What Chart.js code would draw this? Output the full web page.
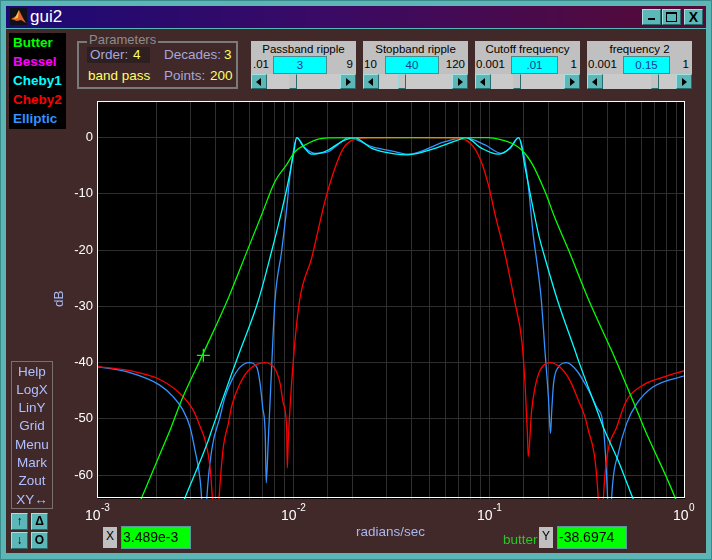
<!DOCTYPE html>
<html>
<head>
<meta charset="utf-8">
<title>gui2</title>
<script src="https://cdn.jsdelivr.net/npm/chart.js"></script>
<style>
  html, body { margin: 0; padding: 0; }
  body {
    width: 712px; height: 560px; overflow: hidden; position: relative;
    background: #5cb6b6; font-family: Arial, "Liberation Sans", sans-serif;
  }
  div, span { position: absolute; box-sizing: border-box; }
  #outer { left: 0; top: 0; width: 712px; height: 560px; border: 1px solid #3a8c8c; }
  #titlebar {
    left: 6px; top: 6px; width: 700px; height: 22px;
    background: linear-gradient(to right, #1c0a74, #3a0a66 45%, #560a34);
  }
  #titletext { left: 24px; top: 1px; color: #fff; font-size: 17px; line-height: 20px; }
  .tbtn {
    top: 3px; width: 19px; height: 16px; background: #5cb8b8;
    border: 1px solid; border-color: #a8e0e0 #2a6a6a #2a6a6a #a8e0e0;
    color: #000; font-weight: bold; text-align: center;
  }
  #content { left: 6px; top: 29px; width: 700px; height: 524px; background: #412829; }
  #legend { left: 9px; top: 33px; width: 57px; height: 96px; background: #000; }
  #legend span { left: 4px; font-weight: bold; font-size: 13.5px; line-height: 16px; white-space: nowrap; }
  #params { left: 77px; top: 41px; width: 161px; height: 48px; border: 2px solid #7a7a7a; }
  #paramsLabel { left: 87px; top: 32px; padding: 0 2px; background: #412829; color: #8c8c8c; font-size: 13px; line-height: 15px; }
  .ptxt { font-size: 13.5px; line-height: 16px; color: #a4a8dc; white-space: nowrap; }
  .yel { color: #ffff66; }
  .panel { top: 41px; width: 105px; height: 48px; background: #c0c0c0; }
  .ptitle { left: 0; top: 1px; width: 100%; text-align: center; font-size: 11.5px; line-height: 14px; color: #000; white-space: nowrap; }
  .pmin, .pmax { top: 16px; font-size: 11.5px; line-height: 14px; color: #000; white-space: nowrap; }
  .pmax { right: 3px; }
  .pbox {
    top: 15px; height: 18px; background: #00ffff; border: 1px solid #4a8a8a;
    text-align: center; font-size: 11.5px; line-height: 17px; color: #1a3c8c;
  }
  .slider { left: 0; top: 33px; width: 105px; height: 15px; background: #cacaca; }
  .arr {
    top: 0; width: 16px; height: 15px; background: #5cb8b8;
    border: 1px solid; border-color: #a8e0e0 #2a6a6a #2a6a6a #a8e0e0;
  }
  .arr.l { left: 0; } .arr.r { right: 0; }
  .arr.l::after, .arr.r::after {
    content: ""; position: absolute; top: 3px; width: 0; height: 0;
    border-top: 4px solid transparent; border-bottom: 4px solid transparent;
  }
  .arr.l::after { left: 4px; border-right: 5px solid #000; }
  .arr.r::after { left: 5px; border-left: 5px solid #000; }
  .thumb {
    top: 0; width: 8px; height: 15px; background: #c4c4c4;
    border: 1px solid; border-color: #9ad6d6 #2a6a6a #2a6a6a #9ad6d6;
  }
  #menu { left: 11px; top: 361px; width: 42px; height: 148px; border: 1px solid #7a7070; }
  #menu span { left: 0; width: 40px; text-align: center; color: #b0c0ff; font-size: 13.5px; line-height: 16px; white-space: nowrap; }
  .sq {
    width: 17px; height: 17px; background: #5cb8b8;
    border: 1px solid; border-color: #a8e0e0 #2a6a6a #2a6a6a #a8e0e0;
    text-align: center; font-weight: bold; font-size: 12px; line-height: 15px; color: #000;
  }
  .gbox { top: 526px; width: 70px; height: 23px; background: #00ff00; border: 1px solid #5a9a9a; color: #000; font-size: 14px; line-height: 21px; padding-left: 1px; }
  .lbox { top: 527px; width: 14px; height: 21px; background: #c0c0c0; color: #000; font-size: 12px; line-height: 19px; text-align: center; }
  .axlabel { color: #a8b8f0; font-size: 13.5px; line-height: 16px; white-space: nowrap; }
  #plot { position: absolute; left: 40px; top: 90px; }
</style>
</head>
<body>
<div id="outer"></div>
<div id="titlebar">
  <svg style="position:absolute;left:4px;top:2px" width="17" height="17" viewBox="0 0 17 17">
    <rect width="17" height="17" fill="#101018"/>
    <polygon points="1,11 6,8 9,2 13,10 16,15 11,12 7,13" fill="#e0602a"/>
    <polygon points="6,8 9,2 8,10 4,11" fill="#f8c040"/>
  </svg>
  <span id="titletext">gui2</span>
  <div class="tbtn" style="left:636px;"><span style="left:5px;top:8px;width:7px;height:2px;background:#000"></span></div>
  <div class="tbtn" style="left:656px;"><span style="left:3px;top:2px;width:11px;height:10px;border:1px solid #000;border-top-width:2px"></span></div>
  <div class="tbtn" style="left:678px;font-size:14px;line-height:14px;">X</div>
</div>
<div id="content"></div>

<div id="legend">
  <span style="top:2px;color:#00ff00">Butter</span>
  <span style="top:21px;color:#ff00ff">Bessel</span>
  <span style="top:40px;color:#00ffff">Cheby1</span>
  <span style="top:59px;color:#ff0000">Cheby2</span>
  <span style="top:78px;color:#3392ff">Elliptic</span>
</div>

<div id="params"></div>
<span id="paramsLabel">Parameters</span>
<div style="left:87px;top:47px;width:63px;height:16px;background:#2e1f20"></div>
<span class="ptxt" style="left:90px;top:47px">Order:</span>
<span class="ptxt yel" style="left:133px;top:47px">4</span>
<span class="ptxt" style="left:164px;top:47px">Decades:</span>
<span class="ptxt yel" style="left:224px;top:47px">3</span>
<span class="ptxt yel" style="left:88px;top:68px">band pass</span>
<span class="ptxt" style="left:164px;top:68px">Points:</span>
<span class="ptxt yel" style="left:210px;top:68px">200</span>

<div class="panel" style="left:251px">
  <span class="ptitle">Passband ripple</span>
  <span class="pmin" style="left:2px">.01</span>
  <div class="pbox" style="left:22px;width:54px">3</div>
  <span class="pmax">9</span>
  <div class="slider"><div class="arr l"></div><div class="thumb" style="left:38px"></div><div class="arr r"></div></div>
</div>
<div class="panel" style="left:363px">
  <span class="ptitle">Stopband ripple</span>
  <span class="pmin" style="left:1px">10</span>
  <div class="pbox" style="left:22px;width:54px">40</div>
  <span class="pmax">120</span>
  <div class="slider"><div class="arr l"></div><div class="thumb" style="left:35px"></div><div class="arr r"></div></div>
</div>
<div class="panel" style="left:475px">
  <span class="ptitle">Cutoff frequency</span>
  <span class="pmin" style="left:1px">0.001</span>
  <div class="pbox" style="left:36px;width:47px">.01</div>
  <span class="pmax">1</span>
  <div class="slider"><div class="arr l"></div><div class="thumb" style="left:38px"></div><div class="arr r"></div></div>
</div>
<div class="panel" style="left:587px">
  <span class="ptitle">frequency 2</span>
  <span class="pmin" style="left:1px">0.001</span>
  <div class="pbox" style="left:36px;width:47px">0.15</div>
  <span class="pmax">1</span>
  <div class="slider"><div class="arr l"></div><div class="thumb" style="left:64px"></div><div class="arr r"></div></div>
</div>

<canvas id="plot" width="660" height="440"></canvas>

<span class="axlabel" style="left:51px;top:291px;transform:rotate(-90deg);transform-origin:8px 8px;width:16px">dB</span>
<span class="axlabel" style="left:356px;top:524px">radians/sec</span>

<div id="menu">
  <span style="top:2px">Help</span>
  <span style="top:20px">LogX</span>
  <span style="top:38px">LinY</span>
  <span style="top:56px">Grid</span>
  <span style="top:75px">Menu</span>
  <span style="top:93px">Mark</span>
  <span style="top:111px">Zout</span>
  <span style="top:130px">XY&harr;</span>
</div>
<div class="sq" style="left:11px;top:513px">&#8593;</div>
<div class="sq" style="left:31px;top:513px">&Delta;</div>
<div class="sq" style="left:11px;top:532px">&#8595;</div>
<div class="sq" style="left:31px;top:532px">O</div>

<div class="lbox" style="left:103px">X</div>
<div class="gbox" style="left:121px">3.489e-3</div>
<span style="left:503px;top:532px;color:#22cc22;font-size:13.5px;line-height:16px">butter</span>
<div class="lbox" style="left:539px">Y</div>
<div class="gbox" style="left:557px">-38.6974</div>

<script>
// magnitude responses (rad/s, dB)
const butterFreq = [0.00160, 0.00214, 0.00236, 0.00270, 0.00348, 0.00468, 0.00592, 0.00692, 0.00809, 0.00928,
  0.01023, 0.01197, 0.01346, 0.0151, 0.020, 0.050, 0.0992, 0.116, 0.1306, 0.147, 0.165, 0.193, 0.217, 0.254,
  0.321, 0.4227, 0.457, 0.578, 0.625, 0.889, 0.93];
const butterDb = [-66.0, -55.5, -52.0, -46.7, -38.4, -28.5, -19.6, -13.7, -7.8, -4.8,
  -2.5, -1.0, -0.25, -0.05, 0, 0, 0, -0.4, -1.0, -2.2, -4.5, -9.6, -14.3, -19.9,
  -28.7, -37.9, -40.6, -49.1, -52.0, -64.0, -66.0];

const cheby1Freq = [0.0026, 0.00279, 0.00370, 0.00385, 0.00486, 0.00537, 0.00665, 0.00778, 0.00875, 0.00946,
  0.01004, 0.01045, 0.0113, 0.01245, 0.0136, 0.01514, 0.01773, 0.0205, 0.0252, 0.0331, 0.0385, 0.053, 0.0697,
  0.0760, 0.0918, 0.1114, 0.128, 0.1420, 0.153, 0.165, 0.179, 0.193, 0.224, 0.275, 0.2857, 0.361, 0.383,
  0.457, 0.545, 0.58];
const cheby1Db = [-67.0, -64.3, -53.8, -52.0, -42.0, -37.9, -29.0, -20.2, -13.1, -7.8,
  -3.06, 0, -1.6, -2.95, -2.8, -2.2, -0.7, 0, -1.9, -2.9, -3.05, -1.9, -0.4,
  0, -1.9, -2.95, -1.9, 0, -5.4, -11.3, -17.2, -21.4, -29.0, -37.9, -39.6, -49.1, -51.5,
  -57.5, -64.3, -66.5];

const cheby2Freq = [0.001, 0.001445, 0.00209, 0.00265, 0.00310, 0.00336, 0.00356, 0.00377, 0.00388, 0.00402,
  0.00419, 0.00441, 0.00468, 0.00486, 0.00537, 0.00604, 0.0072, 0.00809, 0.00859, 0.00893, 0.00929, 0.00935,
  0.00946, 0.01004, 0.0108, 0.01245, 0.01456, 0.01637, 0.01806, 0.0203, 0.025, 0.0387, 0.060, 0.0726, 0.0832,
  0.0918, 0.0993, 0.1074, 0.1208, 0.1350, 0.147, 0.1527, 0.1570, 0.1585, 0.165, 0.172, 0.182, 0.2046, 0.230,
  0.259, 0.2857, 0.309, 0.321, 0.3475, 0.361, 0.372, 0.383, 0.398, 0.449, 0.504, 0.612, 0.774, 1.0];
const cheby2Db = [-40.7, -41.4, -43.0, -45.5, -48.5, -51.4, -53.8, -58.5, -64.3, -75,
  -64.3, -55.0, -50.8, -47.8, -43.7, -41.1, -40.0, -41.1, -43.7, -47.3, -52.0, -58.7,
  -53.8, -39.6, -29.0, -21.4, -11.3, -5.4, -1.9, -0.4, -0.05, 0, -0.05, -0.2, -1.6,
  -4.5, -8.4, -13.7, -20.8, -29.0, -36.1, -43.7, -52.6, -56.7, -48.5, -44.3, -41.4, -40.0, -40.8,
  -43.2, -46.7, -49.7, -52.0, -57.3, -64.3, -75, -64.3, -57.3, -51.4, -46.7, -44.0, -42.6, -41.4];

const ellipFreq = [0.001, 0.001445, 0.00209, 0.00245, 0.00275, 0.00298, 0.00316, 0.00336, 0.00342, 0.00352,
  0.00363, 0.00385, 0.00424, 0.00450, 0.00486, 0.00537, 0.00598, 0.00653, 0.00679, 0.00700, 0.00722, 0.00730,
  0.00748, 0.00778, 0.00809, 0.00875, 0.00929, 0.00966, 0.01004, 0.01045, 0.0115, 0.01294, 0.01514, 0.0170,
  0.0192, 0.0252, 0.0331, 0.0387, 0.0597, 0.0752, 0.0955, 0.116, 0.128, 0.1413, 0.1497, 0.1585, 0.168, 0.177,
  0.185, 0.193, 0.2009, 0.206, 0.209, 0.2135, 0.226, 0.249, 0.280, 0.315, 0.354, 0.383, 0.403, 0.412, 0.422,
  0.457, 0.504, 0.567, 0.689, 1.0];
const ellipDb = [-40.7, -41.7, -44.0, -46.1, -48.5, -51.4, -55.5, -60.9, -64.3, -75,
  -64.3, -55.5, -49.7, -46.1, -43.2, -40.8, -40.0, -40.8, -43.7, -47.9, -53.0, -61.4,
  -53.8, -40.8, -29.0, -20.2, -12.5, -6.6, -2.5, 0, -1.8, -2.8, -2.5, -1.2,
  0, -1.6, -2.5, -2.95, -0.7, 0, -1.3, -2.8, -1.8, 0, -2.5, -8.4, -17.2, -23.1,
  -29.0, -37.9, -46.1, -52.6, -48.5, -43.7, -40.8, -40.0, -41.4, -44.3, -47.9, -51.4, -64.3, -75, -64.3,
  -56.1, -50.8, -47.3, -44.3, -42.3];

// data cursor
const cursorX = [0.003489];
const cursorY = [-38.6974];

// axes
const xTickValues = [0.001, 0.01, 0.1, 1];
const xTickExps = ['-3', '-2', '-1', '0'];
const yTicks = [-60, -50, -40, -30, -20, -10, 0];

function pts(xs, ys) {
  return xs.map((x, i) => ({ x: x, y: ys[i] }));
}

function curve(label, color, xs, ys) {
  return {
    label: label, data: pts(xs, ys), borderColor: color, backgroundColor: color,
    borderWidth: 1.3, pointRadius: 0, cubicInterpolationMode: 'monotone', fill: false
  };
}

const plotFrame = {
  id: 'plotFrame',
  beforeDraw(chart) {
    const a = chart.chartArea, ctx = chart.ctx;
    ctx.save();
    ctx.fillStyle = '#000';
    ctx.fillRect(a.left, a.top, a.right - a.left, a.bottom - a.top);
    ctx.restore();
  },
  afterDraw(chart) {
    const a = chart.chartArea, ctx = chart.ctx, xs = chart.scales.x;
    ctx.save();
    ctx.strokeStyle = '#ffffff';
    ctx.lineWidth = 1;
    ctx.strokeRect(Math.floor(a.left) + 0.5, Math.floor(a.top) + 0.5,
      Math.round(a.right - a.left) - 1, Math.round(a.bottom - a.top) - 1);
    ctx.fillStyle = '#ffffff';
    ctx.textBaseline = 'alphabetic';
    const base = a.bottom + 21;
    xTickValues.forEach((v, i) => {
      const px = xs.getPixelForValue(v);
      ctx.font = '14px Arial, "Liberation Sans", sans-serif';
      ctx.textAlign = 'right';
      ctx.fillText('10', px + 3.5, base);
      ctx.font = '10px Arial, "Liberation Sans", sans-serif';
      ctx.textAlign = 'left';
      ctx.fillText(xTickExps[i], px + 4, base - 9);
    });
    ctx.restore();
  }
};

new Chart(document.getElementById('plot'), {
  type: 'line',
  data: {
    datasets: [
      {
        label: 'cursor', data: pts(cursorX, cursorY), showLine: false,
        pointStyle: 'cross', pointRadius: 6.5, borderColor: '#00ff00', borderWidth: 1.3
      },
      curve('Butter', '#00ff00', butterFreq, butterDb),
      curve('Cheby1', '#00ffff', cheby1Freq, cheby1Db),
      curve('Cheby2', '#ff0000', cheby2Freq, cheby2Db),
      curve('Elliptic', '#3392ff', ellipFreq, ellipDb)
    ]
  },
  options: {
    responsive: false,
    animation: false,
    layout: { padding: { left: 0, right: 15, top: 10, bottom: 0 } },
    plugins: { legend: { display: false }, tooltip: { enabled: false } },
    events: [],
    scales: {
      x: {
        type: 'logarithmic', min: 0.001, max: 1,
        ticks: { autoSkip: false, maxRotation: 0, callback: () => '' },
        grid: { color: '#2e2e2e', drawTicks: false },
        border: { display: false },
        afterFit: (s) => { s.height = 31; }
      },
      y: {
        type: 'linear', min: -64.25, max: 6.37,
        afterBuildTicks: (s) => { s.ticks = yTicks.map(v => ({ value: v })); },
        ticks: { color: '#ffffff', padding: 4, font: { family: 'Arial, "Liberation Sans", sans-serif', size: 13 } },
        grid: { color: '#2e2e2e', drawTicks: false },
        border: { display: false },
        afterFit: (s) => { s.width = 57; }
      }
    }
  },
  plugins: [plotFrame]
});
</script>
</body>
</html>
